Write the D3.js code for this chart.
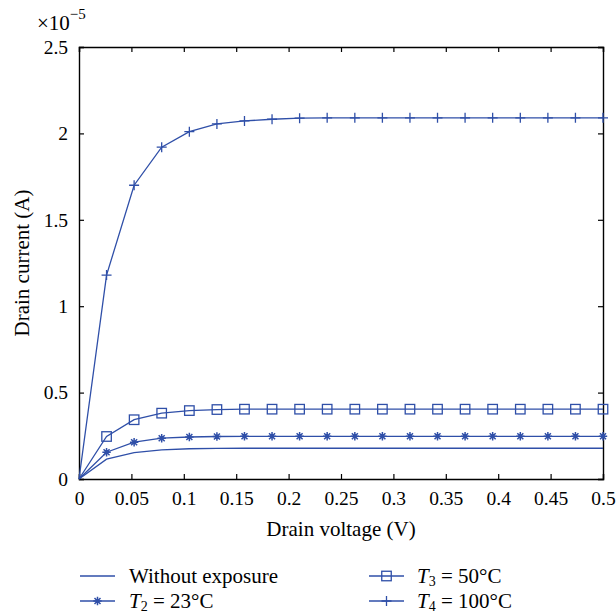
<!DOCTYPE html>
<html>
<head>
<meta charset="utf-8">
<script src="https://cdn.jsdelivr.net/npm/d3@7"></script>
<style>
  body { margin: 0; background: #fff; }
  svg { display: block; font-family: "Liberation Serif", "Times New Roman", serif; }
  svg text { font-family: "Liberation Serif", "Times New Roman", serif; }
</style>
</head>
<body>
<div id="chart"></div>
<script>
// drain voltage (V), 20 sample points
const voltage = [0, 0.0263, 0.0526, 0.0789, 0.1053, 0.1316, 0.1579, 0.1842, 0.2105, 0.2368,
  0.2632, 0.2895, 0.3158, 0.3421, 0.3684, 0.3947, 0.4211, 0.4474, 0.4737, 0.5];
// drain current, x1e-5 A
const withoutExposure = [0, 0.115, 0.153, 0.169, 0.175, 0.177, 0.178, 0.178, 0.178, 0.178,
  0.178, 0.178, 0.178, 0.178, 0.178, 0.178, 0.178, 0.178, 0.178, 0.178];
const t2 = [0, 0.155, 0.213, 0.236, 0.243, 0.246, 0.247, 0.247, 0.247, 0.247,
  0.247, 0.247, 0.247, 0.247, 0.247, 0.247, 0.247, 0.247, 0.247, 0.247];
const t3 = [0, 0.246, 0.343, 0.381, 0.396, 0.402, 0.404, 0.404, 0.404, 0.404,
  0.404, 0.404, 0.404, 0.404, 0.404, 0.404, 0.404, 0.404, 0.404, 0.404];
const t4 = [0, 1.18, 1.70, 1.92, 2.01, 2.055, 2.072, 2.082, 2.088, 2.09,
  2.09, 2.09, 2.09, 2.09, 2.09, 2.09, 2.09, 2.09, 2.09, 2.09];

const xTicks = [0, 0.05, 0.1, 0.15, 0.2, 0.25, 0.3, 0.35, 0.4, 0.45, 0.5];
const yTicks = [0, 0.5, 1, 1.5, 2, 2.5];

const series = [
  { name: 'none', values: withoutExposure, marker: null },
  { name: 't2', values: t2, marker: 'star' },
  { name: 't3', values: t3, marker: 'square' },
  { name: 't4', values: t4, marker: 'plus' }
];

const blue = '#2f4fa8';
const font = '"Liberation Serif", "Times New Roman", serif';
const width = 616, height = 614;
const margin = { top: 47, right: 13, bottom: 135, left: 79 };
const innerW = width - margin.left - margin.right;
const innerH = height - margin.top - margin.bottom;

const svg = d3.select('#chart').append('svg')
  .attr('width', width)
  .attr('height', height);

const chart = svg.append('g')
  .attr('transform', `translate(${margin.left},${margin.top})`);

const x = d3.scaleLinear().domain([0, 0.5]).range([0, innerW]);
const y = d3.scaleLinear().domain([0, 2.5]).range([innerH, 0]);

// box and inward ticks
const tickLen = 5;
const fmt = d => String(d);

chart.append('g')
  .attr('transform', `translate(0,${innerH})`)
  .call(d3.axisBottom(x).tickValues(xTicks).tickSize(-tickLen).tickPadding(12).tickFormat(fmt));
chart.append('g')
  .call(d3.axisTop(x).tickValues(xTicks).tickSize(-tickLen).tickFormat(''));
chart.append('g')
  .call(d3.axisLeft(y).tickValues(yTicks).tickSize(-tickLen).tickPadding(11).tickFormat(fmt));
chart.append('g')
  .attr('transform', `translate(${innerW},0)`)
  .call(d3.axisRight(y).tickValues(yTicks).tickSize(-tickLen).tickFormat(''));

chart.selectAll('g').attr('font-family', font);
chart.selectAll('.tick text')
  .style('font-family', font)
  .attr('font-size', 19.5)
  .attr('fill', '#000');
chart.selectAll('.domain').attr('stroke', '#000').attr('stroke-width', 1.4);
chart.selectAll('.tick line').attr('stroke', '#000').attr('stroke-width', 1.2);

// curves
const line = d3.line()
  .x((d, i) => x(voltage[i]))
  .y(d => y(d));

function drawMarker(g, type) {
  if (type === 'square') {
    const h = 4.75;
    g.append('rect').attr('x', -h).attr('y', -h).attr('width', 2 * h).attr('height', 2 * h)
      .attr('fill', 'none').attr('stroke', blue).attr('stroke-width', 1.3);
  } else if (type === 'plus') {
    const h = 5;
    g.append('path').attr('d', `M${-h},0H${h}M0,${-h}V${h}`)
      .attr('stroke', blue).attr('stroke-width', 1.3);
  } else if (type === 'star') {
    const h = 4.2, d = 3;
    g.append('path')
      .attr('d', `M${-h},0H${h}M0,${-h}V${h}M${-d},${-d}L${d},${d}M${-d},${d}L${d},${-d}`)
      .attr('stroke', blue).attr('stroke-width', 1.5);
  }
}

series.forEach(s => {
  chart.append('path')
    .datum(s.values)
    .attr('d', line)
    .attr('fill', 'none')
    .attr('stroke', blue)
    .attr('stroke-width', 1.3);
  if (s.marker) {
    s.values.forEach((v, i) => {
      if (i === 0) return;
      const g = chart.append('g').attr('transform', `translate(${x(voltage[i])},${y(v)})`);
      drawMarker(g, s.marker);
    });
  }
});

// axis titles
svg.append('text')
  .attr('x', margin.left + innerW / 2)
  .attr('y', 536)
  .attr('text-anchor', 'middle')
  .attr('font-size', 21)
  .text('Drain voltage (V)');

svg.append('text')
  .attr('transform', `translate(29,${margin.top + innerH / 2}) rotate(-90)`)
  .attr('text-anchor', 'middle')
  .attr('font-size', 21)
  .text('Drain current (A)');

// exponent
const expo = svg.append('text').attr('x', 37).attr('y', 30).attr('font-size', 21);
expo.append('tspan').text('×10');
expo.append('tspan').attr('dy', -11).attr('font-size', 15).text('−5');

// legend
const legendItems = [
  { marker: null, col: 0, row: 0, parts: [['Without exposure']] },
  { marker: 'star', col: 0, row: 1, parts: [['T', 'i'], ['2', 'sub'], [' = 23°C']] },
  { marker: 'square', col: 1, row: 0, parts: [['T', 'i'], ['3', 'sub'], [' = 50°C']] },
  { marker: 'plus', col: 1, row: 1, parts: [['T', 'i'], ['4', 'sub'], [' = 100°C']] }
];

legendItems.forEach(item => {
  const lx = item.col === 0 ? 80 : 369;
  const ly = 576 + item.row * 25;
  const g = svg.append('g').attr('transform', `translate(${lx},${ly})`);
  g.append('line').attr('x1', 0).attr('x2', 35).attr('y1', 0).attr('y2', 0)
    .attr('stroke', blue).attr('stroke-width', 1.3);
  if (item.marker) {
    const m = g.append('g').attr('transform', 'translate(17.5,0)');
    drawMarker(m, item.marker);
  }
  const t = g.append('text').attr('x', item.col === 0 ? 49 : 48).attr('y', 7).attr('font-size', 21);
  item.parts.forEach(p => {
    const ts = t.append('tspan').text(p[0]);
    if (p[1] === 'i') ts.attr('font-style', 'italic');
    if (p[1] === 'sub') ts.attr('font-size', 14).attr('dy', 3);
    if (p[0].startsWith(' ')) ts.attr('dy', -3);
  });
});
</script>
</body>
</html>
